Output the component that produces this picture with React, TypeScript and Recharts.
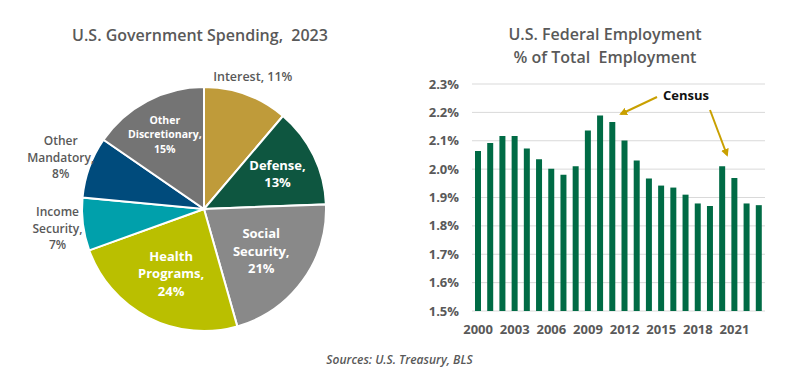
import { PieChart, Pie, Cell, BarChart, Bar, XAxis, YAxis, CartesianGrid } from "recharts";

// spending shares, clockwise from 12 o'clock
const spendingNames = [
  "Interest",
  "Defense",
  "Social Security",
  "Health Programs",
  "Income Security",
  "Other Mandatory",
  "Other Discretionary",
];
const spendingShares = [11.2, 13.2, 21.2, 23.9, 7.0, 8.1, 15.4];
const spendingColors = ["#BF9B3A", "#0E5640", "#898989", "#BABF00", "#00A0AB", "#004B7C", "#747474"];

// federal employment as % of total
const years = [
  "2000", "2001", "2002", "2003", "2004", "2005", "2006", "2007", "2008", "2009", "2010", "2011",
  "2012", "2013", "2014", "2015", "2016", "2017", "2018", "2019", "2020", "2021", "2022", "2023",
];
const fedShare = [
  2.064, 2.092, 2.117, 2.117, 2.073, 2.035, 2.001, 1.98, 2.01, 2.136, 2.189, 2.166,
  2.101, 2.03, 1.967, 1.942, 1.935, 1.91, 1.879, 1.87, 2.01, 1.969, 1.879, 1.873,
];
const yTicks = [1.5, 1.6, 1.7, 1.8, 1.9, 2.0, 2.1, 2.2, 2.3];

const pieData = spendingNames.map((name, i) => ({ name, value: spendingShares[i] }));
const barData = years.map((year, i) => ({ year, value: fedShare[i] }));

// label placement per slice: radius factor, inside (white) or outside (gray)
const labelStyle = [
  { r: 1.16, inside: false, size: 12.5, lh: 17, oneLine: true },
  { r: 0.67, inside: true, size: 13, lh: 17.5, oneLine: false },
  { r: 0.58, inside: true, size: 13, lh: 17.5, oneLine: false },
  { r: 0.59, inside: true, size: 13, lh: 17.5, oneLine: false },
  { r: 1.21, inside: false, size: 12, lh: 16.5, oneLine: false },
  { r: 1.25, inside: false, size: 12, lh: 16.5, oneLine: false },
  { r: 0.69, inside: true, size: 10.5, lh: 14.5, oneLine: false },
];

const FONT = "'Open Sans', sans-serif";
const GRAY = "#595959";
const RAD = Math.PI / 180;

const renderPieLabel = (props: any) => {
  const { cx, cy, midAngle, outerRadius, index, name, value } = props;
  const s = labelStyle[index];
  const r = outerRadius * s.r;
  const x = cx + r * Math.cos(-midAngle * RAD);
  const y = cy + r * Math.sin(-midAngle * RAD);
  const pct = `${Math.round(value)}%`;
  let lines: string[];
  if (s.oneLine) {
    lines = [`${name}, ${pct}`];
  } else {
    const words = name.split(" ");
    words[words.length - 1] += ",";
    lines = [...words, pct];
  }
  const top = y - ((lines.length - 1) * s.lh) / 2;
  return (
    <text
      x={x}
      y={top}
      textAnchor="middle"
      dominantBaseline="central"
      fill={s.inside ? "#ffffff" : GRAY}
      fontSize={s.size}
      fontWeight={s.inside ? 700 : 600}
      fontFamily={FONT}
    >
      {lines.map((ln, i) => (
        <tspan key={i} x={x} dy={i === 0 ? 0 : s.lh}>
          {ln}
        </tspan>
      ))}
    </text>
  );
};

const App = () => {
  return (
    <div
      style={{
        position: "absolute",
        left: 0,
        top: 0,
        width: 799,
        height: 382,
        background: "#fff",
        fontFamily: FONT,
        overflow: "hidden",
      }}
    >
      {/* left: pie */}
      <div
        style={{
          position: "absolute",
          left: 0,
          top: 24,
          width: 400,
          textAlign: "center",
          fontSize: 16,
          fontWeight: 600,
          color: GRAY,
          lineHeight: "22px",
        }}
      >
        U.S. Government Spending,&nbsp; 2023
      </div>
      <div style={{ position: "absolute", left: 0, top: 0 }}>
        <PieChart width={400} height={382}>
          <Pie
            data={pieData}
            dataKey="value"
            nameKey="name"
            cx={199}
            cy={204}
            outerRadius={122}
            startAngle={90}
            endAngle={-270}
            stroke="#ffffff"
            strokeWidth={2}
            label={renderPieLabel}
            labelLine={false}
            isAnimationActive={false}
          >
            {pieData.map((d, i) => (
              <Cell key={d.name} fill={spendingColors[i]} />
            ))}
          </Pie>
        </PieChart>
      </div>

      {/* right: bars */}
      <div
        style={{
          position: "absolute",
          left: 410,
          top: 23,
          width: 390,
          textAlign: "center",
          fontSize: 16,
          fontWeight: 600,
          color: GRAY,
          lineHeight: "23px",
        }}
      >
        U.S. Federal Employment
        <br />% of Total&nbsp; Employment
      </div>
      <div style={{ position: "absolute", left: 400, top: 0 }}>
        <BarChart
          width={399}
          height={382}
          data={barData}
          margin={{ top: 84, right: 34, bottom: 41, left: 0 }}
          barCategoryGap="55%"
        >
          <CartesianGrid vertical={false} stroke="#d9d9d9" strokeWidth={1} />
          <XAxis
            dataKey="year"
            axisLine={false}
            tickLine={false}
            interval={2}
            height={30}
            tickMargin={8}
            tick={{ fontSize: 13, fontWeight: 700, fill: GRAY, fontFamily: FONT }}
          />
          <YAxis
            domain={[1.5, 2.3]}
            ticks={yTicks}
            width={72}
            axisLine={false}
            tickLine={false}
            tickMargin={7}
            tickFormatter={(v: number) => `${v.toFixed(1)}%`}
            tick={{ fontSize: 13, fontWeight: 700, fill: GRAY, fontFamily: FONT }}
          />
          <Bar dataKey="value" fill="#006B45" barSize={6} isAnimationActive={false} />
        </BarChart>
      </div>

      {/* census annotation */}
      <svg
        width={799}
        height={382}
        style={{ position: "absolute", left: 0, top: 0, pointerEvents: "none" }}
      >
        <defs>
          <marker id="head" markerWidth="8" markerHeight="8" refX="6" refY="4" orient="auto" markerUnits="userSpaceOnUse">
            <path d="M0,0 L8,4 L0,8 Z" fill="#C9A000" />
          </marker>
        </defs>
        <text x={686} y={95} textAnchor="middle" dominantBaseline="central" fontSize={13} fontWeight={700} fill="#111" fontFamily={FONT}>
          Census
        </text>
        <line x1={657} y1={97} x2={621} y2={114} stroke="#C9A000" strokeWidth={2} markerEnd="url(#head)" />
        <line x1={710} y1={110} x2={727} y2={155} stroke="#C9A000" strokeWidth={2} markerEnd="url(#head)" />
      </svg>

      <div
        style={{
          position: "absolute",
          left: 0,
          top: 351,
          width: 799,
          textAlign: "center",
          fontSize: 12,
          fontStyle: "italic",
          fontWeight: 600,
          color: GRAY,
        }}
      >
        Sources: U.S. Treasury, BLS
      </div>
    </div>
  );
};

export default App;
